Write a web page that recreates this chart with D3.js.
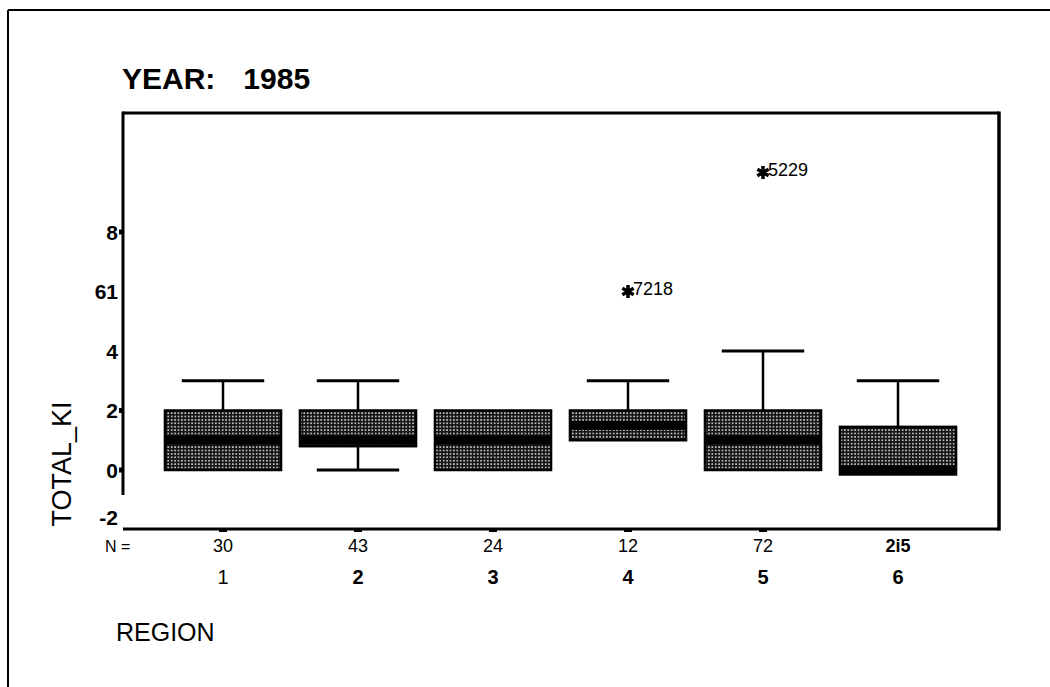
<!DOCTYPE html>
<html><head><meta charset="utf-8">
<script src="https://cdn.jsdelivr.net/npm/d3@7"></script>
<style>body{margin:0;background:#fff}svg{display:block}</style>
</head><body>
<svg id="c" width="1050" height="687"></svg>
<script>
const regions = ["1","2","3","4","5","6"];
const regionBold = [false,true,true,true,true,true];
const nLabels = ["30","43","24","12","72","2i5"];
const q1 = [0, 0.8, 0, 1, 0, -0.15];
const median = [1, 1, 1, 1.5, 1, 0];
const q3 = [2, 2, 2, 2, 2, 1.45];
const whiskerLow = [0, 0, 0, 1, 0, -0.15];
const whiskerHigh = [3, 3, 2, 3, 4, 3];
const outlierRegion = ["4", "5"];
const outlierValue = [6, 10];
const outlierLabel = ["7218", "5229"];
const yTickValues = [8, 6, 4, 2, 0, -2];
const yTickLabels = ["8", "61", "4", "2", "0", "-2"];
const yTickMarks = [8, 2, 0];

const svg = d3.select("#c");
const defs = svg.append("defs");
const pat = defs.append("pattern").attr("id","dots").attr("patternUnits","userSpaceOnUse")
  .attr("width",3.4).attr("height",3.4);
pat.append("rect").attr("width",3.4).attr("height",3.4).attr("fill","#151515");
pat.append("circle").attr("cx",1.7).attr("cy",1.7).attr("r",0.95).attr("fill","#e0e0e0");

// outer frame
svg.append("line").attr("x1",8).attr("x2",1050).attr("y1",10).attr("y2",10).attr("stroke","#000").attr("stroke-width",2);
svg.append("line").attr("x1",8).attr("x2",8).attr("y1",10).attr("y2",687).attr("stroke","#000").attr("stroke-width",2);

const x = d3.scaleBand().domain(regions).range([155.5, 965.5]).paddingInner(0.14).paddingOuter(0.07);
const y = d3.scaleLinear().domain([0, 8]).range([470, 232]);

const L = 123, R = 999, T = 113, B = 529;
// plot frame
svg.append("line").attr("x1",L).attr("x2",R).attr("y1",T).attr("y2",T).attr("stroke","#000").attr("stroke-width",3);
svg.append("line").attr("x1",R).attr("x2",R).attr("y1",T-1.5).attr("y2",B+1.5).attr("stroke","#000").attr("stroke-width",3.5);
svg.append("line").attr("x1",L).attr("x2",R).attr("y1",B).attr("y2",B).attr("stroke","#000").attr("stroke-width",3);
svg.append("line").attr("x1",L).attr("x2",L).attr("y1",T-1.5).attr("y2",495).attr("stroke","#000").attr("stroke-width",3);

// y tick marks
svg.selectAll(".ytm").data(yTickMarks).join("rect")
  .attr("x",L-4).attr("width",4).attr("y",d=>y(d)-2.5).attr("height",5).attr("fill","#000");
// y tick labels
svg.selectAll(".ytl").data(yTickValues).join("text")
  .attr("x",118).attr("y",(d,i)=> d===-2 ? y(d)-12 : y(d))
  .attr("dy","0.36em").attr("text-anchor","end")
  .attr("font-family","'Liberation Sans Narrow','Liberation Sans',Arial,sans-serif")
  .attr("font-weight","bold").attr("font-size",21)
  .text((d,i)=>yTickLabels[i]);

// y title
svg.append("text").attr("transform","translate(71,464) rotate(-90)")
  .attr("text-anchor","middle").attr("font-family","'Liberation Sans',Arial,sans-serif")
  .attr("font-size",27).text("TOTAL_KI");

// title
const title = svg.append("text").attr("x",122).attr("y",89)
  .attr("font-family","'Liberation Sans',Arial,sans-serif").attr("font-weight","bold").attr("font-size",30);
title.append("tspan").text("YEAR:");
title.append("tspan").attr("dx",28).text("1985");

// boxes
const g = svg.append("g");
regions.forEach((r,i)=>{
  const bx = x(r), bw = x.bandwidth(), cx = bx + bw/2, cw = bw*0.71;
  if (whiskerHigh[i] > q3[i]) {
    g.append("line").attr("x1",cx).attr("x2",cx).attr("y1",y(q3[i])).attr("y2",y(whiskerHigh[i])).attr("stroke","#000").attr("stroke-width",2.5);
    g.append("line").attr("x1",cx-cw/2).attr("x2",cx+cw/2).attr("y1",y(whiskerHigh[i])).attr("y2",y(whiskerHigh[i])).attr("stroke","#000").attr("stroke-width",3);
  }
  if (whiskerLow[i] < q1[i]) {
    g.append("line").attr("x1",cx).attr("x2",cx).attr("y1",y(q1[i])).attr("y2",y(whiskerLow[i])).attr("stroke","#000").attr("stroke-width",2.5);
    g.append("line").attr("x1",cx-cw/2).attr("x2",cx+cw/2).attr("y1",y(whiskerLow[i])).attr("y2",y(whiskerLow[i])).attr("stroke","#000").attr("stroke-width",3);
  }
  g.append("rect").attr("x",bx).attr("width",bw).attr("y",y(q3[i])).attr("height",y(q1[i])-y(q3[i]))
    .attr("fill","url(#dots)").attr("stroke","#000").attr("stroke-width",2.5);
  const my = Math.min(Math.max(y(median[i]), y(q3[i])+4), y(q1[i])-4);
  g.append("rect").attr("x",bx).attr("width",bw).attr("y",my-4.5).attr("height",9).attr("fill","#000");
});

// outliers
const sym = d3.symbol().type(d3.symbolAsterisk).size(120);
outlierRegion.forEach((r,i)=>{
  const cx = x(r)+x.bandwidth()/2, cy = y(outlierValue[i]);
  svg.append("path").attr("d",sym()).attr("transform",`translate(${cx},${cy})`)
    .attr("fill","none").attr("stroke","#000").attr("stroke-width",3.5);
  svg.append("text").attr("x",cx+5).attr("y",cy-3).attr("dy","0.35em")
    .attr("font-family","'Liberation Sans',Arial,sans-serif").attr("font-size",18).text(outlierLabel[i]);
});

// x axis ticks
svg.selectAll(".xt").data(regions.slice(0,5)).join("rect")
  .attr("x",d=>x(d)+x.bandwidth()/2-4).attr("width",8).attr("y",B+1).attr("height",2).attr("fill","#000");

// N labels
svg.append("text").attr("x",105).attr("y",546).attr("dy","0.35em")
  .attr("font-family","'Liberation Sans Narrow','Liberation Sans',Arial,sans-serif").attr("font-size",16).text("N =");
svg.selectAll(".nl").data(regions).join("text")
  .attr("x",d=>x(d)+x.bandwidth()/2).attr("y",546).attr("dy","0.35em").attr("text-anchor","middle")
  .attr("font-family","'Liberation Sans',Arial,sans-serif").attr("font-size",18)
  .attr("font-weight",(d,i)=> i===5 ? "bold" : "normal")
  .text((d,i)=>nLabels[i]);
// category labels
svg.selectAll(".cl").data(regions).join("text")
  .attr("x",d=>x(d)+x.bandwidth()/2).attr("y",577).attr("dy","0.35em").attr("text-anchor","middle")
  .attr("font-family","'Liberation Sans',Arial,sans-serif").attr("font-size",20)
  .attr("font-weight",(d,i)=> regionBold[i] ? "bold" : "normal")
  .text(d=>d);

svg.append("text").attr("x",116).attr("y",641)
  .attr("font-family","'Liberation Sans',Arial,sans-serif").attr("font-size",25).text("REGION");
</script>
</body></html>
